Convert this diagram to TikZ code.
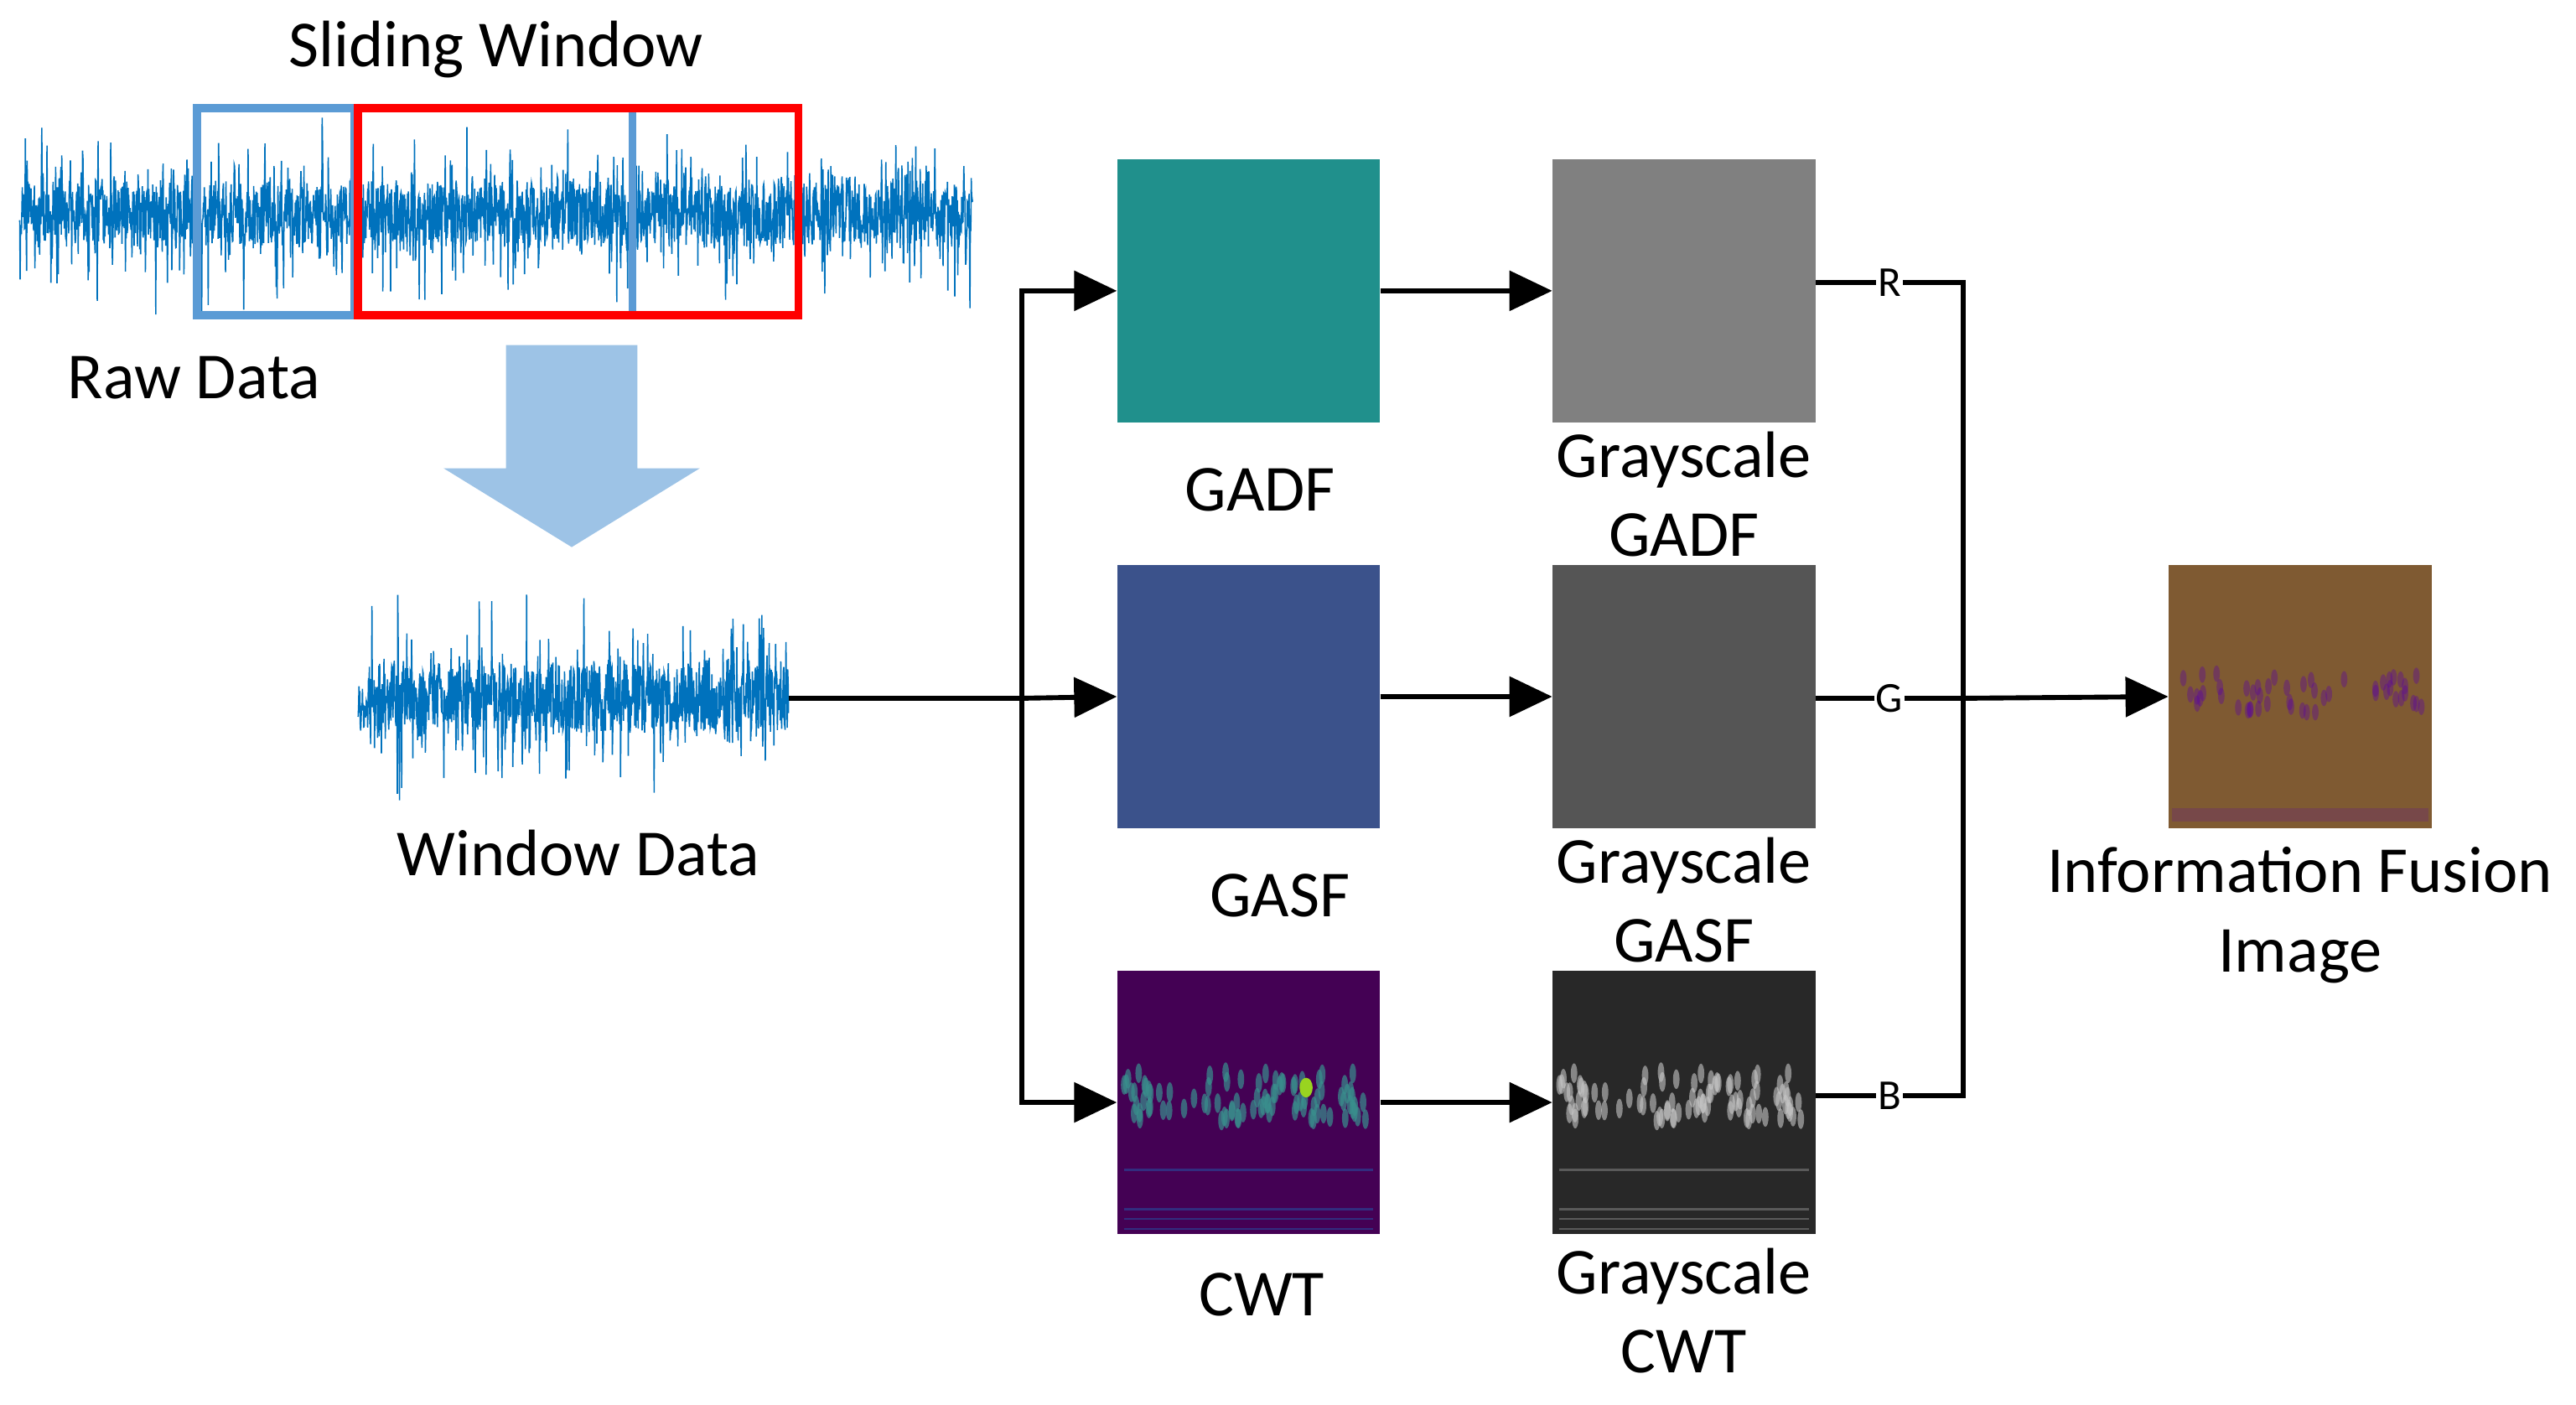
\documentclass[tikz,border=0pt]{standalone}
\usepackage{fontspec}
\setmainfont{Carlito}
\usetikzlibrary{arrows.meta}
\definecolor{wave}{RGB}{0,114,189}
\definecolor{winblue}{RGB}{91,155,213}
\definecolor{bigarrow}{RGB}{157,195,230}
\definecolor{gadf}{RGB}{32,144,140}
\definecolor{gasf}{RGB}{59,82,139}
\definecolor{cwt}{RGB}{68,1,84}
\definecolor{fuse}{RGB}{127,90,50}
\tikzset{
  lab/.style={font=\fontsize{40}{48}\selectfont, align=center},
  con/.style={line width=3pt},
  arr/.style={con, -{Triangle[length=26pt,width=24pt]}},
  img/.style={minimum width=160pt, minimum height=160pt, inner sep=0pt, draw=none},
  rgb/.style={fill=white, inner sep=1pt, font=\fontsize{26}{30}\selectfont},
}
\begin{document}
\begin{tikzpicture}[x=1pt,y=-1pt]
\useasboundingbox (0,0) rectangle (1568,855);
\pgfmathsetseed{7}
% raw waveform
\draw[wave, line width=0.8pt] plot[domain=12:592, samples=2200] (\x, {130 + rand*(18 + 45*rnd^5)});
\pgfmathsetseed{11}
\draw[wave, line width=0.8pt] plot[domain=218:480, samples=1000] (\x, {425 + rand*(20 + 47*rnd^5)});
% windows
\draw[winblue, line width=5pt] (120,66) rectangle (216,192);
\draw[winblue, line width=5pt] (385,66) -- (385,192);
\draw[red, line width=5pt] (218,66) rectangle (486,192);
\node[lab] (sw) at (302,30) {Sliding Window};
\node[lab] (rd) at (118,230) {Raw Data};
\node[lab] (wd) at (352,519) {Window Data};
% big arrow
\fill[bigarrow] (308,210) -- (388,210) -- (388,285) -- (426,285) -- (348,333) -- (270,285) -- (308,285) -- cycle;
% images
\node[img, fill=gadf] (gadf) at (760,177) {};
\node[img, fill=gasf] (gasf) at (760,424) {};
\node[img, fill=cwt] (cwt) at (760,671) {};
\node[img, fill={rgb,255:red,128;green,128;blue,128}] (ggadf) at (1025,177) {};
\node[img, fill={rgb,255:red,85;green,85;blue,85}] (ggasf) at (1025,424) {};
\node[img, fill={rgb,255:red,40;green,40;blue,40}] (gcwt) at (1025,671) {};
\node[img, fill=fuse] (fus) at (1400,424) {};
% textures
\pgfmathsetseed{3}
\foreach \i in {1,...,90}{
  \pgfmathsetmacro\xx{684+152*rnd}\pgfmathsetmacro\yy{652+30*rnd}
  \fill[cyan!60!green!70!black, opacity=0.7] (\xx,\yy) ellipse (2 and 6);
  \fill[white!55!gray, opacity=0.6] (\xx+265,\yy) ellipse (2 and 6);
}
\fill[yellow!60!green] (795,662) ellipse (4 and 6);
\foreach \yy in {712,736,742,748}{
  \draw[cyan!50!blue, opacity=0.4, line width=1.2pt] (684,\yy) -- (836,\yy);
  \draw[gray!70, opacity=0.4, line width=1.2pt] (949,\yy) -- (1101,\yy);
}
\foreach \i in {1,...,50}{
  \pgfmathsetmacro\xx{1325+150*rnd}\pgfmathsetmacro\yy{410+24*rnd}
  \fill[violet!70!blue, opacity=0.35] (\xx,\yy) ellipse (2 and 5);
}
\fill[violet!70!blue, opacity=0.2] (1322,492) rectangle (1478,500);
% labels
\node[lab] at (767,298) {GADF};
\node[lab] at (779,545) {GASF};
\node[lab] at (768,788) {CWT};
\node[lab] at (1025,301) {Grayscale\\GADF};
\node[lab] at (1025,548) {Grayscale\\GASF};
\node[lab] at (1025,798) {Grayscale\\CWT};
\node[lab] at (1400,557) {Information Fusion\\Image};
% connectors
\coordinate (wend) at (480,425);
\coordinate (split) at (622,425);
\draw[con] (wend) -- (split);
\draw[arr] (split) -- (gasf.west);
\draw[arr] (split) |- (gadf.west);
\draw[arr] (split) |- (cwt.west);
\draw[arr] (gadf) -- (ggadf);
\draw[arr] (gasf) -- (ggasf);
\draw[arr] (cwt) -- (gcwt);
\coordinate (jR) at (1195,172);
\coordinate (jG) at (1195,425);
\coordinate (jB) at (1195,667);
\draw[con] (ggadf.east |- jR) -- node[rgb]{R} (jR) -- (jB) -- node[rgb]{B} (gcwt.east |- jB);
\draw[con] (ggasf.east |- jG) -- node[rgb]{G} (jG);
\draw[arr] (jG) -- (fus.west);
\end{tikzpicture}
\end{document}
